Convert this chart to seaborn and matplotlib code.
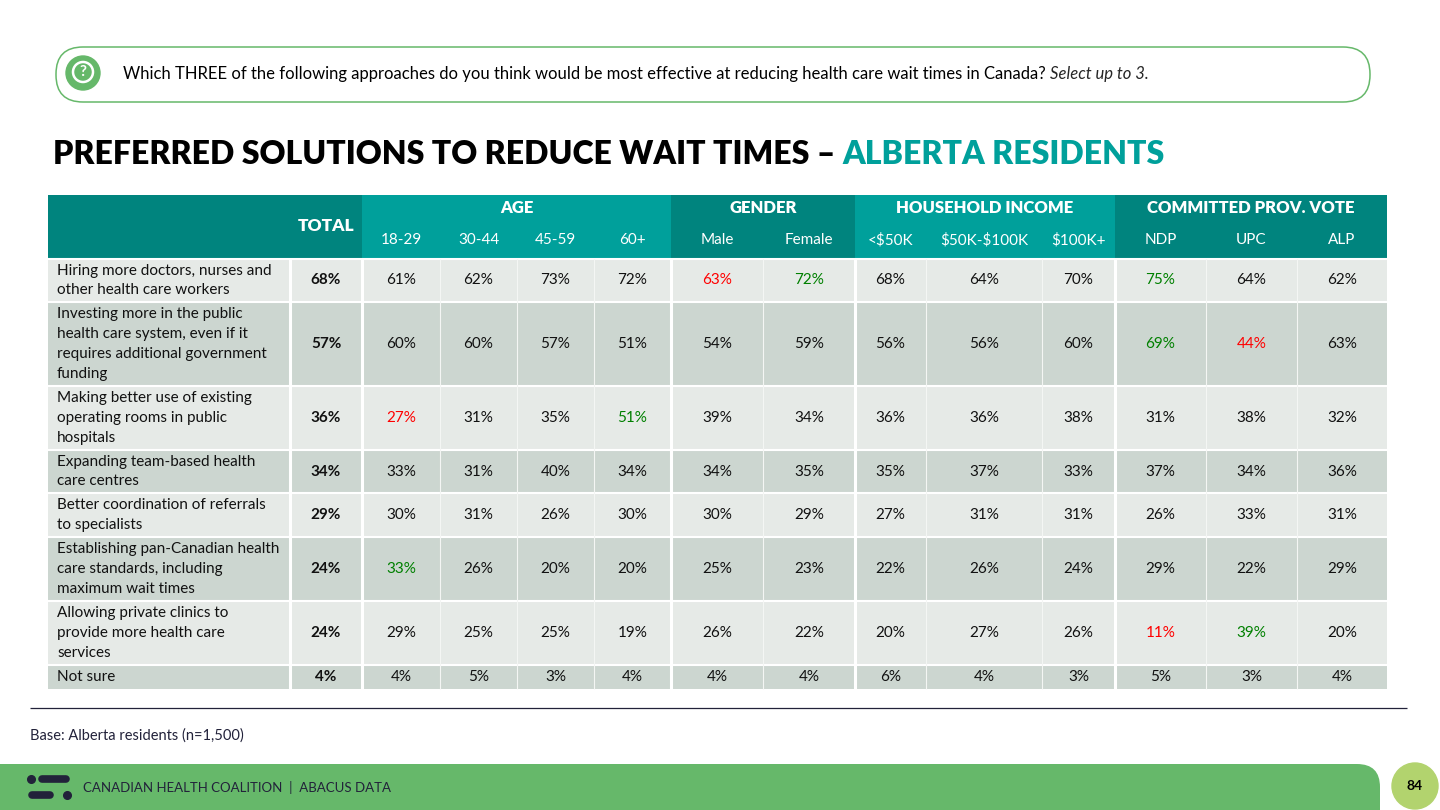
"""Alberta residents - preferred solutions to reduce wait times (crosstab table slide)."""

import matplotlib

matplotlib.use("Agg")
import matplotlib.pyplot as plt  # noqa: E402
import seaborn as sns  # noqa: E402
from matplotlib.patches import Circle, FancyBboxPatch  # noqa: E402

# ---- data --------------------------------------------------------------------
QUESTION = ("Which THREE of the following approaches do you think would be most effective "
            "at reducing health care wait times in Canada? ")
QUESTION_NOTE = "Select up to 3."
TITLE = "PREFERRED SOLUTIONS TO REDUCE WAIT TIMES \u2013 "
TITLE_ACCENT = "ALBERTA RESIDENTS"
BASE_NOTE = "Base: Alberta residents (n=1,500)"
FOOTER = "CANADIAN HEALTH COALITION  |  ABACUS DATA"
PAGE = "84"

row_labels = [
    "Hiring more doctors, nurses and\nother health care workers",
    "Investing more in the public\nhealth care system, even if it\nrequires additional government\nfunding",
    "Making better use of existing\noperating rooms in public\nhospitals",
    "Expanding team-based health\ncare centres",
    "Better coordination of referrals\nto specialists",
    "Establishing pan-Canadian health\ncare standards, including\nmaximum wait times",
    "Allowing private clinics to\nprovide more health care\nservices",
    "Not sure",
]
groups = ["AGE", "GENDER", "HOUSEHOLD INCOME", "COMMITTED PROV. VOTE"]
group_sizes = [4, 2, 3, 3]
col_labels = ["18-29", "30-44", "45-59", "60+", "Male", "Female",
              "<$50K", "$50K-$100K", "$100K+", "NDP", "UPC", "ALP"]
total = [68, 57, 36, 34, 29, 24, 24, 4]
values = [
    [61, 62, 73, 72, 63, 72, 68, 64, 70, 75, 64, 62],
    [60, 60, 57, 51, 54, 59, 56, 56, 60, 69, 44, 63],
    [27, 31, 35, 51, 39, 34, 36, 36, 38, 31, 38, 32],
    [33, 31, 40, 34, 34, 35, 35, 37, 33, 37, 34, 36],
    [30, 31, 26, 30, 30, 29, 27, 31, 31, 26, 33, 31],
    [33, 26, 20, 20, 25, 23, 22, 26, 24, 29, 22, 29],
    [29, 25, 25, 19, 26, 22, 20, 27, 26, 11, 39, 20],
    [4, 5, 3, 4, 4, 4, 6, 4, 3, 5, 3, 4],
]
# significance flags: r = significantly lower, g = significantly higher
flags = [
    "....rg...g..",
    ".........gr.",
    "r..g........",
    "............",
    "............",
    "g...........",
    ".........rg.",
    "............",
]

# ---- layout (pixels, figure is 1440x810) --------------------------------------
COL_EDGES = [48, 290, 362, 440, 517, 594, 671, 763, 855, 926, 1042, 1115, 1206, 1297, 1387]
ROW_EDGES = [259, 302, 386, 450, 493, 537, 601, 665, 689]
HEAD_TOP, HEAD_BOT = 195, 258

DARK_TEAL = "#00847E"
LIGHT_TEAL = "#00A09B"
ROW_LIGHT = "#E6EAE7"
ROW_DARK = "#CCD6D0"
GREEN = "#66B86A"
LIME = "#B2D36E"
NAVY = "#22223A"
SIG = {"r": "#FF0000", "g": "#008000", ".": "#111111"}
BODY_FS = 11

sns.set_theme(style="white")
plt.rcParams["font.family"] = ["Lato", "DejaVu Sans"]

fig = plt.figure(figsize=(14.4, 8.1), dpi=100)
ax = fig.add_axes([0, 0, 1, 1])
ax.set_xlim(0, 1440)
ax.set_ylim(810, 0)
ax.axis("off")

# ---- question banner ------------------------------------------------------------
ax.add_patch(FancyBboxPatch((56, 47), 1314, 55, boxstyle="round,pad=0,rounding_size=27",
                            fc="white", ec=GREEN, lw=1.1))
ax.add_patch(Circle((83, 73), 17, color=GREEN))
ax.add_patch(Circle((83, 72), 10, fc="none", ec="white", lw=1.8))
ax.text(83, 72.5, "?", color="white", fontsize=11, fontweight="bold", ha="center", va="center")
q = ax.text(123, 74, QUESTION, fontsize=12, color="black", va="center")
ax.annotate(QUESTION_NOTE, xy=(1, 0.5), xycoords=q, fontsize=12, style="italic",
            va="center", ha="left")

# ---- title -----------------------------------------------------------------------
t = ax.text(53, 154, TITLE, fontsize=23, fontweight="heavy", color="black", va="center")
ax.annotate(TITLE_ACCENT, xy=(1, 0.5), xycoords=t, fontsize=23, fontweight="heavy",
            color=LIGHT_TEAL, va="center", ha="left")

# ---- header ----------------------------------------------------------------------
group_start = [2]
for n in group_sizes[:-1]:
    group_start.append(group_start[-1] + n)
head_h = HEAD_BOT - HEAD_TOP
ax.bar(COL_EDGES[0], head_h, width=COL_EDGES[2] - COL_EDGES[0], bottom=HEAD_TOP,
       align="edge", color=DARK_TEAL, lw=0)
ax.text((COL_EDGES[1] + COL_EDGES[2]) / 2, 226, "TOTAL", color="white", fontsize=12.5,
        fontweight="heavy", ha="center", va="center")
for k, (name, start, n) in enumerate(zip(groups, group_start, group_sizes)):
    x0, x1 = COL_EDGES[start], COL_EDGES[start + n]
    ax.bar(x0, head_h, width=x1 - x0, bottom=HEAD_TOP, align="edge",
           color=LIGHT_TEAL if k % 2 == 0 else DARK_TEAL, lw=0)
    ax.text((x0 + x1) / 2, 208, name, color="white", fontsize=12, fontweight="heavy",
            ha="center", va="center")
for j, lab in enumerate(col_labels):
    xc = (COL_EDGES[j + 2] + COL_EDGES[j + 3]) / 2
    ax.text(xc, 240, lab.replace("$", r"\$"), color="white", fontsize=11,
            ha="center", va="center")

# ---- body ------------------------------------------------------------------------
for i, label in enumerate(row_labels):
    top, bot = ROW_EDGES[i], ROW_EDGES[i + 1]
    yc = (top + bot) / 2
    ax.bar(COL_EDGES[0], bot - top, width=COL_EDGES[-1] - COL_EDGES[0], bottom=top,
           align="edge", color=ROW_LIGHT if i % 2 == 0 else ROW_DARK, lw=0)
    ax.text(57, yc, label, fontsize=BODY_FS, color="#111111", va="center", ha="left",
            linespacing=1.53)
    ax.text((COL_EDGES[1] + COL_EDGES[2]) / 2, yc, f"{total[i]}%", fontsize=BODY_FS,
            fontweight="bold", color="#111111", ha="center", va="center")
    for j, v in enumerate(values[i]):
        xc = (COL_EDGES[j + 2] + COL_EDGES[j + 3]) / 2
        ax.text(xc, yc, f"{v}%", fontsize=BODY_FS, color=SIG[flags[i][j]],
                ha="center", va="center")

# cell separators
body_top, body_bot = ROW_EDGES[0], ROW_EDGES[-1]
ax.hlines(ROW_EDGES[:-1], COL_EDGES[0], COL_EDGES[-1], color="white", lw=1.5)
thick = [COL_EDGES[1], COL_EDGES[2]] + [COL_EDGES[s] for s in group_start[1:]]
thin = [e for e in COL_EDGES[3:-1] if e not in thick]
ax.vlines(thin, body_top, body_bot, color="#F4F6F4", lw=0.8)
ax.vlines(thick, body_top, body_bot, color="white", lw=2.2)

# ---- base note -------------------------------------------------------------------
ax.hlines(708, 30, 1407, color=NAVY, lw=0.9)
ax.text(30, 736, BASE_NOTE, fontsize=10.5, color=NAVY, va="center")

# ---- footer ----------------------------------------------------------------------
ax.add_patch(FancyBboxPatch((-40, 764), 1420, 90, boxstyle="round,pad=0,rounding_size=23",
                            fc=GREEN, ec="none"))
ax.plot([31], [779], "o", ms=5.5, color=NAVY)
ax.plot([42, 66], [779, 779], color=NAVY, lw=5.5, solid_capstyle="round")
ax.plot([32, 50], [795, 795], color=NAVY, lw=5.5, solid_capstyle="round")
ax.plot([67], [795], "o", ms=5.5, color=NAVY)
ax.text(83, 787, FOOTER, fontsize=9.5, color=NAVY, va="center")
ax.add_patch(Circle((1415, 786), 23, color=LIME))
ax.text(1415, 786, PAGE, fontsize=10, fontweight="bold", color="black",
        ha="center", va="center")

fig.savefig("out.png", dpi=100, facecolor="white")
